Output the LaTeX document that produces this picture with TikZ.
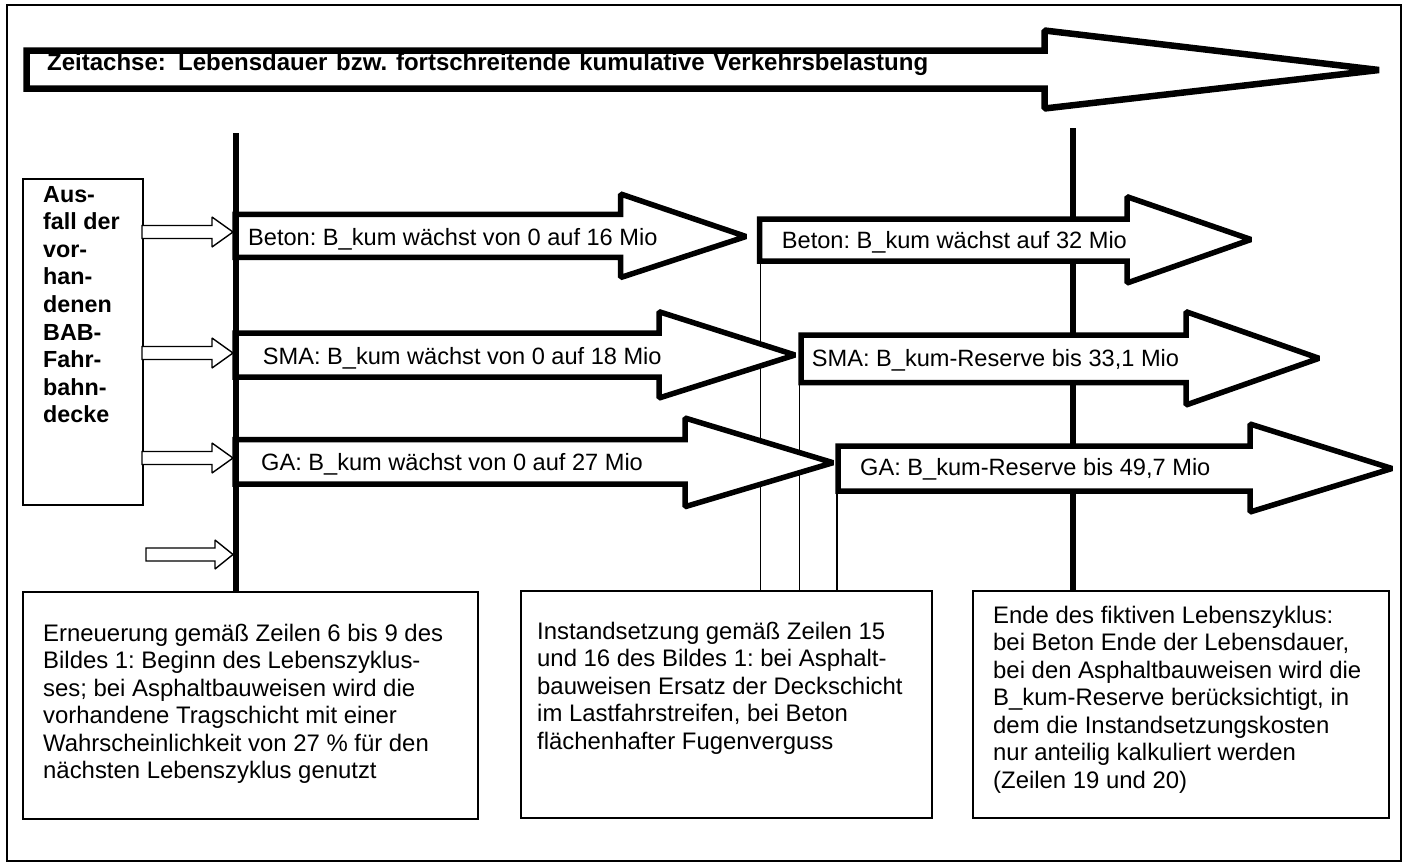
\documentclass[tikz,border=0pt]{standalone}
\usepackage{fontspec}
\setmainfont{Liberation Sans}
\frenchspacing
\newcommand{\txtlines}[1]{\begin{tabular}[t]{@{}l@{}}#1\end{tabular}}
\begin{document}
\begin{tikzpicture}[x=1pt,y=-1pt,
  frame/.style={draw=black, line width=1.5pt},
  bigarrow/.style={draw=black, fill=white, line width=6.5pt, line join=miter, miter limit=1.5},
  blockarrow/.style={draw=black, fill=white, line width=5.5pt, line join=miter, miter limit=1.5},
  smallarrow/.style={draw=black, fill=white, line width=1.4pt, line join=miter, miter limit=1.5},
  phase/.style={line width=6pt},
  thinline/.style={line width=1.4pt},
  box/.style={draw=black, line width=1.6pt, fill=white, inner sep=0pt},
  lbl/.style={anchor=base west, inner sep=0pt, font=\fontsize{23.6}{27.5}\selectfont},
  para/.style={anchor=base west, inner sep=0pt, font=\fontsize{23.9}{27.5}\selectfont},
  head/.style={anchor=base west, inner sep=0pt, font=\fontsize{24}{27}\selectfont\bfseries},
  boldpara/.style={anchor=base west, inner sep=0pt, font=\fontsize{23.3}{27.6}\selectfont\bfseries}
]
\useasboundingbox (0,0) rectangle (1406,863);
\fill[white] (0,0) rectangle (1406,863);
\draw[frame] (7,5) rectangle (1401,861);

% time axis
\draw[bigarrow] (26.5,50.5) -- (1044.5,50.5) -- (1044.5,30.5) -- (1379,70) -- (1044.5,108.5) -- (1044.5,88.5) -- (26.5,88.5) -- cycle;
\node[head] (zeit) at (47,70.5) {Zeitachse:};
\node[head] (zeittext) at (178,70.5) {\makebox[750pt][s]{Lebensdauer bzw. fortschreitende kumulative Verkehrsbelastung}};

% bottom boxes
\node[box, anchor=north west, minimum width=455pt, minimum height=227pt] (erneu) at (22,591) {};
\node[box, anchor=north west, minimum width=411pt, minimum height=227pt] (instand) at (520,590) {};
\node[box, anchor=north west, minimum width=416pt, minimum height=227pt] (ende) at (972,590) {};

% vertical lines
\coordinate (lt) at (235.5,133);
\coordinate (rt) at (1073,128);
\coordinate (t1) at (760.7,261);
\coordinate (t2) at (799.3,383);
\coordinate (t3) at (836.9,491);
\draw[phase] (rt) -- (rt |- ende.north);
\draw[thinline] (t1) -- (t1 |- instand.north);
\draw[thinline] (t2) -- (t2 |- instand.north);
\draw[thinline] (t3) -- (t3 |- instand.north);

% first phase arrows
\draw[blockarrow] (235,214.3) -- (620.7,214.3) -- (620.7,194) -- (746,236.5) -- (620.7,277.5) -- (620.7,257.3) -- (235,257.3) -- cycle;
\draw[blockarrow] (235,333) -- (659,333) -- (659,311.7) -- (795,355) -- (659,398) -- (659,377) -- (235,377) -- cycle;
\draw[blockarrow] (235,439.5) -- (685,439.5) -- (685,418) -- (833,462.7) -- (685,506.7) -- (685,484) -- (235,484) -- cycle;

% second phase arrows
\draw[blockarrow] (759.5,219) -- (1127,219) -- (1127,196.7) -- (1251,239.5) -- (1127,283) -- (1127,261) -- (759.5,261) -- cycle;
\draw[blockarrow] (801,335) -- (1186,335) -- (1186,311.7) -- (1319,358.3) -- (1186,405) -- (1186,382.5) -- (801,382.5) -- cycle;
\draw[blockarrow] (838,446) -- (1250,446) -- (1250,424) -- (1392,468.5) -- (1250,512) -- (1250,491) -- (838,491) -- cycle;

\draw[phase] (lt) -- (lt |- erneu.north);

% arrow labels
\node[lbl] (b1) at (248,245) {Beton: B\_kum wächst von 0 auf 16 Mio};
\node[lbl] (s1) at (262.7,364) {SMA: B\_kum wächst von 0 auf 18 Mio};
\node[lbl] (g1) at (261,470) {GA: B\_kum wächst von 0 auf 27 Mio};
\node[lbl] (b2) at (781.7,248) {Beton: B\_kum wächst auf 32 Mio};
\node[lbl] (s2) at (811.7,366) {SMA: B\_kum-Reserve bis 33,1 Mio};
\node[lbl] (g2) at (860,475) {GA: B\_kum-Reserve bis 49,7 Mio};

% Ausfall box
\node[box, anchor=north west, minimum width=120pt, minimum height=326pt] (ausfall) at (22,178) {};
\node[boldpara] (ausfalltext) at (43,202) {\txtlines{Aus-\\fall der\\vor-\\han-\\denen\\BAB-\\Fahr-\\bahn-\\decke}};

% small arrows
\draw[smallarrow] (142,225.5) -- (212,225.5) -- (212,217) -- (233,232) -- (212,247) -- (212,238.5) -- (142,238.5) -- cycle;
\draw[smallarrow] (142,346.5) -- (212,346.5) -- (212,338) -- (233,353) -- (212,368) -- (212,359.5) -- (142,359.5) -- cycle;
\draw[smallarrow] (142,451.5) -- (212,451.5) -- (212,443) -- (233,458) -- (212,473) -- (212,464.5) -- (142,464.5) -- cycle;
\draw[smallarrow] (146,548) -- (215,548) -- (215,540) -- (233,554.5) -- (215,569) -- (215,561) -- (146,561) -- cycle;

% box texts
\node[para] (erneutext) at (43,641) {\txtlines{Erneuerung gemäß Zeilen 6 bis 9 des\\Bildes 1: Beginn des Lebenszyklus-\\ses; bei Asphaltbauweisen wird die\\vorhandene Tragschicht mit einer\\Wahrscheinlichkeit von 27 \% für den\\nächsten Lebenszyklus genutzt}};
\node[para] (instandtext) at (537,639) {\txtlines{Instandsetzung gemäß Zeilen 15\\und 16 des Bildes 1: bei Asphalt-\\bauweisen Ersatz der Deckschicht\\im Lastfahrstreifen, bei Beton\\flächenhafter Fugenverguss}};
\node[para] (endetext) at (993,623) {\txtlines{Ende des fiktiven Lebenszyklus:\\bei Beton Ende der Lebensdauer,\\bei den Asphaltbauweisen wird die\\B\_kum-Reserve berücksichtigt, in\\dem die Instandsetzungskosten\\nur anteilig kalkuliert werden\\(Zeilen 19 und 20)}};
\end{tikzpicture}
\end{document}
